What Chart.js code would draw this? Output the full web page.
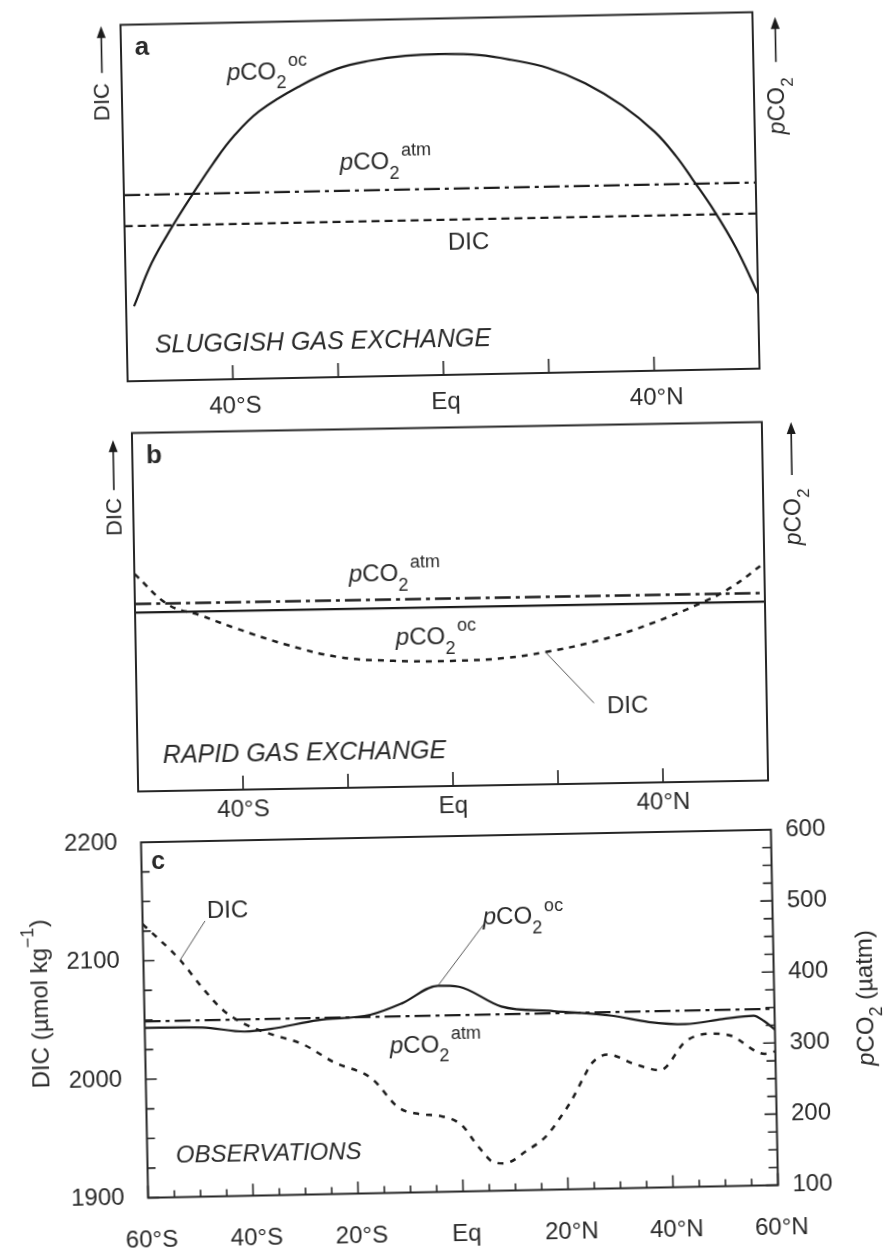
<!DOCTYPE html>
<html>
<head>
<meta charset="utf-8">
<script src="https://cdn.jsdelivr.net/npm/chart.js@4.4.1/dist/chart.umd.min.js"></script>
<style>
html,body{margin:0;padding:0;background:#fff;}
#wrap{position:relative;width:893px;height:1255px;overflow:hidden;background:#fff;}
#wrap canvas{position:absolute;left:0;}
</style>
</head>
<body>
<div id="wrap">
<canvas id="ca" width="893" height="440"></canvas>
<canvas id="cb" width="893" height="420"></canvas>
<canvas id="cc" width="893" height="435"></canvas>
</div>
<script>
// ---------------- DATA ----------------
// Panel a (schematic, arbitrary units 0-100)
const latA = [-58.5, -55, -51, -47, -43, -39, -34, -26, -19, -13, -6, 1.5, 8, 14, 21, 28, 35, 41, 45, 48, 52, 56, 60];
const ocA  = [21, 33, 43, 52, 60.5, 68, 75, 82, 86.5, 88.5, 89.7, 90, 89.5, 88, 85.5, 81, 74.5, 67, 60, 53.5, 44.5, 34, 21];
const latEnds = [-60, 60];
const atmA = [52.2, 52.2];
const dicA = [43.5, 43.5];

// Panel b (schematic, arbitrary units 0-100)
const latB = [-60, -53.6, -47.7, -41, -31, -21.3, -11, 0, 10, 18, 28, 38, 48.9, 53.9, 60];
const dicB = [60.7, 51.9, 48.9, 45.1, 40.1, 36.5, 35.2, 34.9, 35.4, 36.9, 39.8, 44.2, 50.5, 54.3, 60.7];
const atmB = [52.3, 52.3];
const ocB  = [49.9, 49.9];

// Panel c (observations)
const latOcC = [-60, -49, -41, -36, -27, -17, -11, -4, 0, 8, 18, 29, 36, 43, 50, 56, 58, 60];
const ocC    = [339, 338, 331, 334, 345, 351, 366, 390, 388, 359, 351, 343, 333, 329, 335, 339, 331, 319];
const atmC   = [348, 348];
const latDicC = [-60, -53, -49, -45, -41, -36, -30, -24, -17, -12, -8, -4, 0, 3, 6, 8, 12.5, 16, 19, 21, 23.5, 25, 28, 33.5, 38, 43, 48, 51.5, 58, 60];
const dicC    = [2131, 2100, 2077, 2057, 2045, 2036, 2027, 2011, 1997, 1972, 1966, 1964, 1956, 1938, 1924, 1923, 1934, 1945, 1962, 1975, 1995, 2006, 2013, 2004, 1999, 2023, 2029, 2027, 2011, 2013];

// Tick values / labels
const tickLatAB  = [-40, -20, 0, 20, 40];
const labelLatAB = [-40, 0, 40];
const tickLatC   = [-60, -55, -50, -45, -40, -35, -30, -25, -20, -15, -10, -5, 0, 5, 10, 15, 20, 25, 30, 35, 40, 45, 50, 55, 60];
const labelLatC  = [-60, -40, -20, 0, 20, 40, 60];
const dicTicks   = [1900, 1925, 1950, 1975, 2000, 2025, 2050, 2075, 2100, 2125, 2150, 2175, 2200];
const dicLabels  = [1900, 2000, 2100, 2200];
const pTicks     = [100, 125, 150, 175, 200, 225, 250, 275, 300, 325, 350, 375, 400, 425, 450, 475, 500, 525, 550, 575, 600];
const pLabels    = [100, 200, 300, 400, 500, 600];

// ---------------- STYLE / HELPERS ----------------
const FF  = '"Liberation Sans", Arial, Helvetica, sans-serif';
const INK = '#1c1c1c';
const TXT = '#2a2a2a';
Chart.defaults.font.family = FF;

// each panel of the scanned figure is slightly skewed; reproduce it with a CSS rotation
const PANELS = {
  ca: { top: 0,   ox: 440,   oy: 197,  deg: 1.15 },
  cb: { top: 420, ox: 450,   oy: 607,  deg: 1.0 },
  cc: { top: 820, ox: 459.5, oy: 1013, deg: 1.15 }
};
Object.keys(PANELS).forEach(id => {
  const p = PANELS[id], el = document.getElementById(id);
  el.style.top = p.top + 'px';
  el.style.transformOrigin = p.ox + 'px ' + (p.oy - p.top) + 'px';
  el.style.transform = 'rotate(-' + p.deg + 'deg)';
});
// page position (as seen in the figure) -> canvas position before the CSS rotation
function mapper(id) {
  const p = PANELS[id], t = p.deg * Math.PI / 180, c = Math.cos(t), s = Math.sin(t);
  return (X, Y) => {
    const dx = X - p.ox, dy = Y - p.oy;
    return [p.ox + dx * c - dy * s, p.oy - p.top + dx * s + dy * c];
  };
}

function pts(xs, ys) { return xs.map((x, i) => ({ x: x, y: ys[i] })); }
function fmtLat(v) { return v === 0 ? 'Eq' : (v < 0 ? (-v) + '°S' : v + '°N'); }

function xScale(tickList, labelList, pad, h, off) {
  return {
    type: 'linear', position: 'bottom', min: -60, max: 60,
    afterBuildTicks: s => { s.ticks = tickList.map(v => ({ value: v })); },
    afterFit: s => { s.height = h; },
    grid: { display: false, drawTicks: false },
    border: { display: false },
    ticks: {
      autoSkip: false, maxRotation: 0, minRotation: 0, padding: pad, labelOffset: off, color: TXT,
      font: { family: FF, size: 24 },
      callback: v => labelList.includes(v) ? fmtLat(v) : ''
    }
  };
}

function fontFor(p, size) {
  const s = (p.sub || p.sup) ? Math.round(size * 0.74) : size;
  return (p.i ? 'italic ' : '') + (p.b ? 'bold ' : '') + s + 'px ' + FF;
}
function richWidth(ctx, parts, size) {
  let w = 0;
  for (const p of parts) { ctx.font = fontFor(p, size); w += ctx.measureText(p.t).width + (p.gap || 0); }
  return w;
}
function drawRich(ctx, parts, x, y, size) {
  let cx = x;
  ctx.textAlign = 'left';
  ctx.textBaseline = 'alphabetic';
  for (const p of parts) {
    ctx.font = fontFor(p, size);
    const dy = p.sub ? size * 0.40 : (p.sup ? -size * 0.54 : 0);
    ctx.fillText(p.t, cx, y + dy);
    cx += ctx.measureText(p.t).width + (p.gap || 0);
  }
}
function richRot(ctx, parts, cx, cy, size) {
  ctx.save();
  ctx.translate(cx, cy);
  ctx.rotate(-Math.PI / 2);
  const w = richWidth(ctx, parts, size);
  drawRich(ctx, parts, -w / 2, size * 0.36, size);
  ctx.restore();
}
function plain(ctx, s, x, y, size, style) {
  ctx.font = (style || '') + ' ' + size + 'px ' + FF;
  ctx.textAlign = 'left';
  ctx.textBaseline = 'alphabetic';
  ctx.fillText(s, x, y);
}
function centered(ctx, s, x, y, size, style) {
  ctx.font = (style || '') + ' ' + size + 'px ' + FF;
  ctx.textAlign = 'center';
  ctx.textBaseline = 'middle';
  ctx.fillText(s, x, y);
}
function arrowUp(ctx, x, yTip, len) {
  ctx.save();
  ctx.strokeStyle = INK; ctx.fillStyle = INK; ctx.lineWidth = 1.6;
  ctx.beginPath(); ctx.moveTo(x, yTip + len); ctx.lineTo(x, yTip + 8); ctx.stroke();
  ctx.beginPath(); ctx.moveTo(x, yTip); ctx.lineTo(x - 4.5, yTip + 12); ctx.lineTo(x + 4.5, yTip + 12); ctx.closePath(); ctx.fill();
  ctx.restore();
}
function frame(chart) {
  const a = chart.chartArea, ctx = chart.ctx;
  ctx.save();
  ctx.strokeStyle = '#262626'; ctx.lineWidth = 2;
  ctx.strokeRect(a.left, a.top, a.right - a.left, a.bottom - a.top);
  ctx.restore();
}
// inward tick marks drawn at the scale's own tick positions
function inwardTicks(chart, id, side, lenFn) {
  const s = chart.scales[id], a = chart.chartArea, ctx = chart.ctx;
  ctx.save();
  ctx.strokeStyle = '#262626'; ctx.lineWidth = 1.6;
  ctx.beginPath();
  s.ticks.forEach(t => {
    const p = s.getPixelForValue(t.value), L = lenFn(t.value);
    if (side === 'bottom') { ctx.moveTo(p, a.bottom); ctx.lineTo(p, a.bottom - L); }
    if (side === 'left')   { ctx.moveTo(a.left, p); ctx.lineTo(a.left + L, p); }
    if (side === 'right')  { ctx.moveTo(a.right, p); ctx.lineTo(a.right - L, p); }
  });
  ctx.stroke();
  ctx.restore();
}
function leader(ctx, x1, y1, x2, y2) {
  ctx.save(); ctx.strokeStyle = '#555'; ctx.lineWidth = 1;
  ctx.beginPath(); ctx.moveTo(x1, y1); ctx.lineTo(x2, y2); ctx.stroke(); ctx.restore();
}
const P_OC  = [{ t: 'p', i: 1 }, { t: 'CO' }, { t: '2', sub: 1, gap: 2 }, { t: 'oc', sup: 1 }];
const P_ATM = [{ t: 'p', i: 1 }, { t: 'CO' }, { t: '2', sub: 1, gap: 2 }, { t: 'atm', sup: 1 }];
const P_CO2 = [{ t: 'p', i: 1 }, { t: 'CO' }, { t: '2', sub: 1 }];

const base = {
  responsive: false, animation: false, devicePixelRatio: 1, events: [],
  plugins: { legend: { display: false }, tooltip: { enabled: false } },
  elements: { point: { radius: 0 } }
};
function ds(data, dash, width, axis, smooth) {
  const d = { data: data, borderColor: INK, borderWidth: width, borderDash: dash, fill: false,
    pointRadius: 0, borderCapStyle: 'butt' };
  if (smooth === 'mono') d.cubicInterpolationMode = 'monotone'; else d.tension = 0.4;
  if (axis) d.yAxisID = axis;
  return d;
}

// ---------------- PANEL A ----------------
new Chart(document.getElementById('ca'), {
  type: 'line',
  data: { datasets: [
    ds(pts(latA, ocA), [], 2.2),
    ds(pts(latEnds, atmA), [16, 5, 4, 5], 2.4),
    ds(pts(latEnds, dicA), [8, 5], 2.2)
  ]},
  options: Object.assign({}, base, {
    layout: { padding: { left: 124, right: 137, top: 18.5, bottom: 20 } },
    scales: {
      x: xScale(tickLatAB, labelLatAB, 13, 45, 2),
      y: { display: false, min: 0, max: 100 }
    }
  }),
  plugins: [{ id: 'decoA', afterDatasetsDraw(chart) {
    const ctx = chart.ctx, M = mapper('ca');
    frame(chart);
    inwardTicks(chart, 'x', 'bottom', () => 14);
    ctx.save(); ctx.fillStyle = TXT;
    let q;
    q = M(142, 48);  centered(ctx, 'a', q[0], q[1], 26, 'bold');
    q = M(227, 80);  drawRich(ctx, P_OC, q[0], q[1], 24);
    q = M(340, 170); drawRich(ctx, P_ATM, q[0], q[1], 24);
    q = M(448, 250); plain(ctx, 'DIC', q[0], q[1], 24);
    q = M(155, 353); plain(ctx, 'SLUGGISH GAS EXCHANGE', q[0], q[1], 25, 'italic');
    q = M(101, 26);  arrowUp(ctx, q[0], q[1], 47);
    q = M(101, 102); richRot(ctx, [{ t: 'DIC' }], q[0], q[1], 22);
    q = M(775, 17);  arrowUp(ctx, q[0], q[1], 45);
    q = M(776, 106); richRot(ctx, P_CO2, q[0], q[1], 23);
    ctx.restore();
  }}]
});

// ---------------- PANEL B ----------------
new Chart(document.getElementById('cb'), {
  type: 'line',
  data: { datasets: [
    ds(pts(latEnds, atmB), [16, 5, 4, 5], 2.4),
    ds(pts(latEnds, ocB), [], 2.4),
    ds(pts(latB, dicB), [6, 6], 2.5)
  ]},
  options: Object.assign({}, base, {
    layout: { padding: { left: 135, right: 128, top: 7.5, bottom: 14 } },
    scales: {
      x: xScale(tickLatAB, labelLatAB, 6, 40, 0),
      y: { display: false, min: 0, max: 100 }
    }
  }),
  plugins: [{ id: 'decoB', afterDatasetsDraw(chart) {
    const ctx = chart.ctx, M = mapper('cb');
    frame(chart);
    inwardTicks(chart, 'x', 'bottom', () => 14);
    const pt = chart.getDatasetMeta(2).data[9];
    ctx.save(); ctx.fillStyle = TXT;
    let q;
    q = M(594, 703); leader(ctx, q[0], q[1], pt.x, pt.y);
    q = M(154, 456); centered(ctx, 'b', q[0], q[1], 26, 'bold');
    q = M(349, 582); drawRich(ctx, P_ATM, q[0], q[1], 24);
    q = M(396, 645); drawRich(ctx, P_OC, q[0], q[1], 24);
    q = M(607, 713); plain(ctx, 'DIC', q[0], q[1], 24);
    q = M(163, 763); plain(ctx, 'RAPID GAS EXCHANGE', q[0], q[1], 25, 'italic');
    q = M(113, 440); arrowUp(ctx, q[0], q[1], 50);
    q = M(113, 517); richRot(ctx, [{ t: 'DIC' }], q[0], q[1], 22);
    q = M(791, 422); arrowUp(ctx, q[0], q[1], 53);
    q = M(792, 517); richRot(ctx, P_CO2, q[0], q[1], 23);
    ctx.restore();
  }}]
});

// ---------------- PANEL C ----------------
new Chart(document.getElementById('cc'), {
  type: 'line',
  data: { datasets: [
    ds(pts(latEnds, atmC), [16, 5, 4, 5], 2.3, 'yR', 'mono'),
    ds(pts(latOcC, ocC), [], 2.2, 'yR', 'mono'),
    ds(pts(latDicC, dicC), [6, 7], 2.5, 'yL', 'mono')
  ]},
  options: Object.assign({}, base, {
    layout: { padding: { left: 67.5, right: 64, top: 16, bottom: 8.5 } },
    scales: {
      x: xScale(tickLatC, labelLatC, 28, 55, 3),
      yL: {
        type: 'linear', position: 'left', min: 1900, max: 2200,
        afterBuildTicks: s => { s.ticks = dicTicks.map(v => ({ value: v })); },
        afterFit: s => { s.width = 77; },
        grid: { display: false, drawTicks: false }, border: { display: false },
        ticks: { padding: 0, crossAlign: 'far', autoSkip: false, color: TXT, font: { family: FF, size: 24 },
          callback: v => dicLabels.includes(v) ? String(v) : '' }
      },
      yR: {
        type: 'linear', position: 'right', min: 100, max: 600,
        afterBuildTicks: s => { s.ticks = pTicks.map(v => ({ value: v })); },
        afterFit: s => { s.width = 54.5; },
        grid: { display: false, drawTicks: false }, border: { display: false },
        ticks: { padding: 0, crossAlign: 'far', autoSkip: false, color: TXT, font: { family: FF, size: 24 },
          callback: v => pLabels.includes(v) ? String(v) : '' }
      }
    }
  }),
  plugins: [{ id: 'decoC', afterDatasetsDraw(chart) {
    const ctx = chart.ctx, M = mapper('cc');
    frame(chart);
    inwardTicks(chart, 'x', 'bottom', v => (v % 20 === 0 ? 12 : 7));
    inwardTicks(chart, 'yL', 'left', v => (v % 100 === 0 ? 11 : 8));
    inwardTicks(chart, 'yR', 'right', v => (v % 100 === 0 ? 12 : 9));
    const pDic = chart.getDatasetMeta(2).data[1];
    const pOc = chart.getDatasetMeta(1).data[7];
    ctx.save(); ctx.fillStyle = TXT;
    let q;
    q = M(205, 921);  leader(ctx, q[0], q[1], pDic.x, pDic.y);
    q = M(484, 924);  leader(ctx, q[0], q[1], pOc.x, pOc.y);
    q = M(158, 862);  centered(ctx, 'c', q[0], q[1], 25, 'bold');
    q = M(207, 918);  plain(ctx, 'DIC', q[0], q[1], 24);
    q = M(483, 925);  drawRich(ctx, P_OC, q[0], q[1], 24);
    q = M(390, 1053); drawRich(ctx, P_ATM, q[0], q[1], 24);
    q = M(176, 1163); plain(ctx, 'OBSERVATIONS', q[0], q[1], 24, 'italic');
    q = M(39, 1004);  richRot(ctx, [{ t: 'DIC (µmol kg' }, { t: '−1', sup: 1 }, { t: ')' }], q[0], q[1], 24);
    q = M(864, 998);  richRot(ctx, [{ t: 'p', i: 1 }, { t: 'CO' }, { t: '2', sub: 1 }, { t: ' (µatm)' }], q[0], q[1], 24);
    ctx.restore();
  }}]
});
</script>
</body>
</html>
